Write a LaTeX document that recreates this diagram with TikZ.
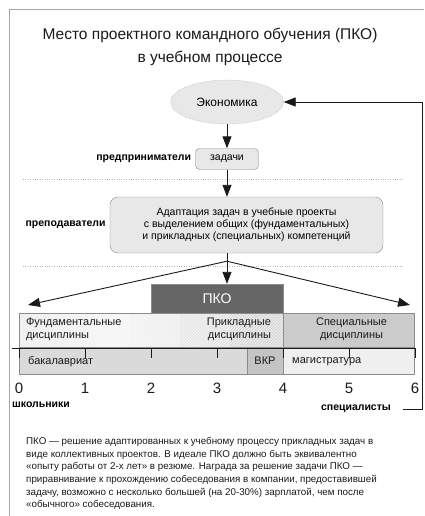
\documentclass[tikz,border=0pt]{standalone}
\usepackage{fontspec}
\setmainfont{Liberation Sans}
\usetikzlibrary{arrows.meta,shapes.geometric,positioning,patterns,calc}
\definecolor{boxfill}{HTML}{E8E8E8}
\definecolor{boxline}{HTML}{8C8C8C}
\definecolor{pkofill}{HTML}{666666}
\definecolor{specfill}{HTML}{CBCBCB}
\definecolor{bachfill}{HTML}{DADADA}
\definecolor{vkrfill}{HTML}{C4C4C4}
\definecolor{magfill}{HTML}{EFEFEF}
\definecolor{inkcol}{HTML}{1A1A1A}
\pgfdeclarehorizontalshading{fundshade}{100bp}{color(0bp)=(gray!18); color(45bp)=(gray!6); color(75bp)=(gray!16); color(100bp)=(gray!42)}
\tikzstyle{box}=[rectangle,rounded corners=4pt,draw=boxline,fill=boxfill,inner sep=0pt]
\tikzstyle{bar}=[rectangle,draw=boxline,inner sep=0pt]
\tikzstyle{link}=[draw=inkcol,line width=0.9pt,-{Triangle[length=12pt,width=9pt]}]
\tikzstyle{role}=[font=\fontsize{10.5}{12}\selectfont\bfseries,inner sep=0pt]
\tikzstyle{bartext}=[font=\fontsize{11}{12.5}\selectfont,inner sep=0pt,text=inkcol]
\tikzstyle{sep}=[draw=gray!55,dotted]
\tikzstyle{num}=[font=\fontsize{15}{16}\selectfont,text=inkcol]

\begin{document}
\begin{tikzpicture}[x=1pt,y=-1pt]
\useasboundingbox (0,0) rectangle (424,516);
\fill[white] (0,0) rectangle (424,516);

% frame
\draw[gray!70, line width=0.8pt] (9,516) -- (9,9) -- (424,9);

% Title
\node[font=\fontsize{15.5}{23}\selectfont, align=center, text=inkcol] (title) at (210,47) {Место проектного командного обучения (ПКО)\\в учебном процессе};

% layer 1
\node[ellipse, draw=gray!75, densely dotted, fill=boxfill, minimum width=113pt, minimum height=44pt, inner sep=0pt, font=\fontsize{12}{14}\selectfont] (econ) at (227,102) {Экономика};
\node[box, minimum width=63pt, minimum height=21pt, font=\fontsize{10.5}{12}\selectfont] (tasks) at (227,159) {задачи};
\node[role, left=4pt of tasks] (biz) {предприниматели};

%layer 2
\node[box, rounded corners=8pt, minimum width=273pt, minimum height=56pt, align=center, font=\fontsize{10.5}{12.2}\selectfont] (adapt) at (246.5,225) {Адаптация задач в учебные проекты\\с выделением общих (фундаментальных)\\и прикладных (специальных) компетенций};
\node[role, left=4pt of adapt] (teach) {преподаватели};

% separators
\foreach \y in {179,266}
    \draw[sep] (23,\y) -- (403,\y);

% bars
\node[bar, shading=fundshade, minimum width=264pt, minimum height=34pt] (fund) at (151,330) {};
% hatch, stronger to the right
\foreach \xa/\xb/\c in {130/180/12, 180/230/25, 230/283/40}
    \path[pattern=north east lines, pattern color=gray!\c] (\xa,313) rectangle (\xb,347);
\draw[boxline] (fund.south west) rectangle (fund.north east);
\foreach \pos/\name/\w/\h/\col in {{(217,298.5)/pko/132/29/pkofill}, {(348.5,330)/spec/131/34/specfill}, {(151,361)/bach/264/26/bachfill}, {(265,361)/vkr/36/26/vkrfill}, {(348.5,361)/mag/131/26/magfill}}
    \node[bar, fill=\col, minimum width=\w pt, minimum height=\h pt] (\name) at \pos {};
\node[font=\fontsize{14}{16}\selectfont, text=white] (pkotxt) at (pko) {ПКО};

% bar labels
\node[bartext, anchor=north west, align=left] (fundtxt) at ($(fund.north west)+(7,5)$) {Фундаментальные\\дисциплины};
\node[bartext, anchor=north east, align=right] (appltxt) at ($(fund.north east)+(-12,5)$) {Прикладные\\дисциплины};
\node[bartext, anchor=north, align=center] (spectxt) at ($(spec.north)+(3,5)$) {Специальные\\дисциплины};
\node[bartext, anchor=west] (bachtxt) at (28,362) {бакалавриат};
\node[bartext] (vkrtxt) at (vkr) {ВКР};
\node[bartext, anchor=west] (magtxt) at (292,362) {магистратура};

% axis
\draw[inkcol, line width=0.8pt] (12,348) -- (416,348);
\foreach \i in {0,...,6} {
    \draw[inkcol, line width=0.8pt] (19+66*\i,348) -- (19+66*\i,358);
    \node[num] (n\i) at (19+66*\i,388) {\i};
}
\node[role, anchor=west] (pupils) at (12,405) {школьники};
\node[role] (specs) at (356,409) {специалисты};

% arrows
\draw[link] (econ) -- (tasks);
\draw[link] (tasks) -- (tasks |- adapt.north);
\coordinate (fan) at ($(tasks |- adapt.south)+(0,8)$);
\coordinate (lefttip) at (28,305);
\coordinate (righttip) at (410,305);
\draw[inkcol, line width=0.9pt] (tasks |- adapt.south) -- (fan);
\draw[link] (fan) -- (fan |- pko.north);
\draw[link] (fan) -- (lefttip);
\draw[link] (fan) -- (righttip);
\coordinate (ret) at ($(specs.east)+(12,0)$);
\draw[link] (ret) -- ++(19,0) |- (econ.east);

% note
\node[anchor=north west, align=left, inner sep=0pt, font=\fontsize{9.8}{12.7}\selectfont, text=inkcol] (note) at (26,437) {ПКО — решение адаптированных к учебному процессу прикладных задач в\\
виде коллективных проектов. В идеале ПКО должно быть эквивалентно\\
«опыту работы от 2-х лет» в резюме. Награда за решение задачи ПКО —\\
приравнивание к прохождению собеседования в компании, предоставившей\\
задачу, возможно с несколько большей (на 20-30\%) зарплатой, чем после\\
«обычного» собеседования.};

\end{tikzpicture}
\end{document}
